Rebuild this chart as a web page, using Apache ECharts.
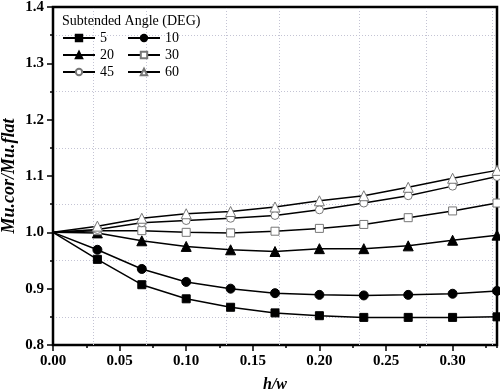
<!DOCTYPE html>
<html>
<head>
<meta charset="utf-8">
<script src="https://cdn.jsdelivr.net/npm/echarts@6/dist/echarts.min.js"></script>
<style>html,body{margin:0;padding:0;background:#fff}#c{width:500px;height:392px}</style>
</head>
<body>
<div id="c"></div>
<script>
// h/w values
var xVals = [0, 0.03333, 0.06667, 0.1, 0.13333, 0.16667, 0.2, 0.23333, 0.26667, 0.3, 0.33333];
// Mu.cor/Mu.flat for each subtended angle (DEG)
var s5  = [1.000, 0.952, 0.907, 0.882, 0.867, 0.857, 0.852, 0.849, 0.849, 0.849, 0.850];
var s10 = [1.000, 0.969, 0.935, 0.912, 0.900, 0.892, 0.889, 0.888, 0.889, 0.891, 0.896];
var s20 = [1.000, 0.999, 0.985, 0.975, 0.969, 0.966, 0.971, 0.971, 0.976, 0.986, 0.995];
var s30 = [1.000, 1.003, 1.003, 1.000, 0.999, 1.002, 1.007, 1.014, 1.026, 1.038, 1.052];
var s45 = [1.000, 1.005, 1.017, 1.021, 1.025, 1.030, 1.040, 1.052, 1.065, 1.082, 1.099];
var s60 = [1.000, 1.011, 1.025, 1.033, 1.037, 1.045, 1.056, 1.065, 1.080, 1.096, 1.110];
var seriesNames = ['5', '10', '20', '30', '45', '60'];
var xGridVals = [0.025, 0.075, 0.125, 0.175, 0.225, 0.275, 0.325];
var legendTitle = 'Subtended Angle (DEG)';
var xName = 'h/w';
var yName = 'Mu.cor/Mu.flat';

var FONT = 'Liberation Serif';
function pairs(ys) {
  return xVals.map(function (x, i) {
    var d = { value: [x, ys[i]] };
    if (i === 0) d.symbolSize = 0;
    return d;
  });
}
var styles = [
  { symbol: 'rect', size: 8, fill: '#000', stroke: '#000' },
  { symbol: 'circle', size: 9, fill: '#000', stroke: '#000' },
  { symbol: 'triangle', size: 10, fill: '#000', stroke: '#000' },
  { symbol: 'rect', size: 8, fill: '#fff', stroke: '#777' },
  { symbol: 'circle', size: 8, fill: '#fff', stroke: '#777' },
  { symbol: 'triangle', size: 10, fill: '#fff', stroke: '#777' }
];
var allData = [s5, s10, s20, s30, s45, s60];
var series = allData.map(function (ys, k) {
  var st = styles[k];
  var s = {
    name: seriesNames[k],
    type: 'line',
    data: pairs(ys),
    symbol: st.symbol,
    symbolSize: st.size,
    showAllSymbol: true,
    lineStyle: { color: '#000', width: 1.5 },
    itemStyle: { color: st.fill, borderColor: st.stroke, borderWidth: 1 },
    z: 3
  };
  if (k === 0) {
    s.markLine = {
      silent: true,
      symbol: ['none', 'none'],
      label: { show: false },
      lineStyle: { color: '#c4c4d4', type: [1, 2], width: 1 },
      data: xGridVals.map(function (v) { return { xAxis: v }; }),
      z: 1
    };
  }
  return s;
});

var chart = echarts.init(document.getElementById('c'));
var legendCommon = {
  orient: 'vertical',
  top: 31,
  padding: 0,
  itemWidth: 32,
  itemHeight: 8,
  itemGap: 3,
  textStyle: { fontFamily: FONT, fontSize: 14, color: '#000', lineHeight: 14 }
};
chart.setOption({
  animation: false,
  title: {
    text: legendTitle, left: 62, top: 14, padding: 0,
    textStyle: { fontFamily: FONT, fontSize: 14, fontWeight: 'normal', color: '#000' }
  },
  legend: [
    Object.assign({ left: 62, data: [seriesNames[0], seriesNames[2], seriesNames[4]] }, legendCommon),
    Object.assign({ left: 127, data: [seriesNames[1], seriesNames[3], seriesNames[5]] }, legendCommon)
  ],
  grid: {
    left: 53, right: 3, top: 7, bottom: 47,
    containLabel: false, outerBoundsMode: 'none',
    show: true, borderColor: '#000', borderWidth: 2.5, backgroundColor: 'transparent'
  },
  xAxis: [{
    type: 'value', min: 0, max: 0.33333, interval: 0.05,
    name: xName, nameLocation: 'middle', nameGap: 32,
    nameTextStyle: { fontFamily: FONT, fontSize: 16, fontWeight: 'bold', fontStyle: 'italic', color: '#000' },
    axisLine: { show: true, lineStyle: { color: '#000', width: 2 } },
    axisTick: { show: true, length: 6, lineStyle: { color: '#000', width: 1.5 } },
    axisLabel: {
      showMaxLabel: false, margin: 9,
      fontFamily: FONT, fontSize: 15, fontWeight: 'bold', color: '#000',
      formatter: function (v) { return v.toFixed(2); }
    },
    splitLine: { show: false }
  }, {
    type: 'value', min: 0, max: 0.33333, interval: 0.025, position: 'bottom',
    axisLine: { show: false },
    axisTick: { show: true, length: 3, lineStyle: { color: '#000', width: 1.5 } },
    axisLabel: { show: false },
    splitLine: { show: false }
  }],
  yAxis: {
    type: 'value', min: 0.8, max: 1.4, interval: 0.1,
    name: yName, nameLocation: 'middle', nameGap: 35, nameMoveOverlap: false,
    nameTextStyle: { fontFamily: FONT, fontSize: 18, fontWeight: 'bold', fontStyle: 'italic', color: '#000' },
    axisLine: { show: true, lineStyle: { color: '#000', width: 2 } },
    axisTick: { show: true, length: 6, lineStyle: { color: '#000', width: 1.5 } },
    minorTick: { show: true, splitNumber: 2, length: 3, lineStyle: { color: '#000', width: 1.5 } },
    axisLabel: {
      margin: 9, fontFamily: FONT, fontSize: 15, fontWeight: 'bold', color: '#000',
      formatter: function (v) { return v.toFixed(1); }
    },
    splitLine: { show: false },
    minorSplitLine: { show: true, lineStyle: { color: '#c4c4d4', type: [1, 2], width: 1 } }
  },
  series: series
});
</script>
</body>
</html>
